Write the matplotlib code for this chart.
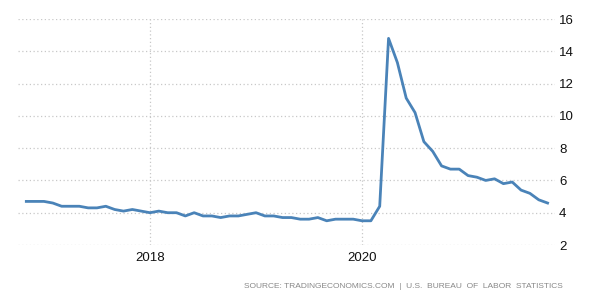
import matplotlib
matplotlib.use("Agg")
import matplotlib.pyplot as plt
import numpy as np

start_year = 2016
start_month = 11
values = [4.7, 4.7,
          4.7, 4.6, 4.4, 4.4, 4.4, 4.3, 4.3, 4.4, 4.2, 4.1, 4.2, 4.1,
          4.0, 4.1, 4.0, 4.0, 3.8, 4.0, 3.8, 3.8, 3.7, 3.8, 3.8, 3.9,
          4.0, 3.8, 3.8, 3.7, 3.7, 3.6, 3.6, 3.7, 3.5, 3.6, 3.6, 3.6,
          3.5, 3.5, 4.4, 14.8, 13.3, 11.1, 10.2, 8.4, 7.8, 6.9, 6.7, 6.7,
          6.3, 6.2, 6.0, 6.1, 5.8, 5.9, 5.4, 5.2, 4.8, 4.6]
x_ticks = [2018, 2020]
y_ticks = [2, 4, 6, 8, 10, 12, 14, 16]
source = "SOURCE: TRADINGECONOMICS.COM  |  U.S.  BUREAU  OF  LABOR  STATISTICS"

plt.rcParams['font.family'] = ['Liberation Sans', 'DejaVu Sans']

x = np.array([start_year + (start_month - 1 + i) / 12 for i in range(len(values))])

fig = plt.figure(figsize=(6, 3), dpi=100)
ax = fig.add_axes([18/600, 1-245/300, (555-18)/600, (245-19)/300])
ax.plot(x, values, color='#4a83b8', lw=2.0, solid_joinstyle='round')
ax.set_xlim(2016.755, 2021.82)
ax.set_ylim(2, 16)
ax.set_yticks(y_ticks)
ax.set_xticks(x_ticks)
ax.set_xticklabels([str(t) for t in x_ticks])
ax.yaxis.tick_right()
ax.tick_params(axis='y', length=0, pad=3, labelsize=9.5, colors='#111111')
ax.tick_params(axis='x', length=0, pad=5, labelsize=9.5, colors='#111111')
for lab in ax.get_yticklabels():
    lab.set_horizontalalignment('left')
for s in ax.spines.values():
    s.set_visible(False)
ax.grid(True, color='#c8c8c8', linestyle=(0, (1, 2)), linewidth=0.9)
ax.set_axisbelow(True)
fig.text(563/600, 1-287/300, source, ha='right', va='center', fontsize=6.0, color='#888888')
fig.savefig('out.png', dpi=100)
